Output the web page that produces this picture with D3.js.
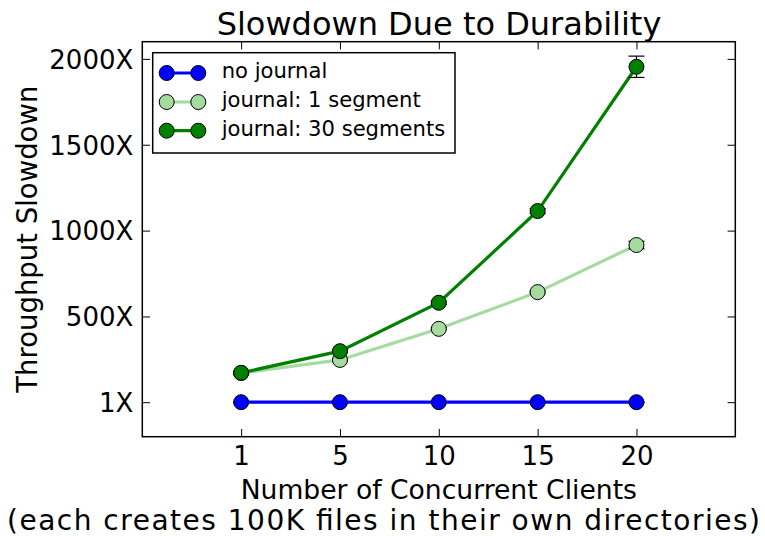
<!DOCTYPE html>
<html>
<head>
<meta charset="utf-8">
<script src="https://cdn.jsdelivr.net/npm/d3@7/dist/d3.min.js"></script>
<style>
  html, body { margin: 0; padding: 0; background: #fff; }
  svg { display: block; font-family: "DejaVu Sans", sans-serif; }
</style>
</head>
<body>
<svg id="chart" width="765" height="536"></svg>
<script>
// ---- data ----
const clients = ["1", "5", "10", "15", "20"];
const noJournal = [1, 1, 1, 1, 1];
const noJournalErr = [2, 2, 2, 2, 2];
const seg1 = [171, 247, 428, 642, 916];
const seg1Err = [5, 5, 6, 6, 22];
const seg30 = [172, 298, 580, 1114, 1954];
const seg30Err = [6, 6, 9, 14, 62];
const yTickValues = [1, 500, 1000, 1500, 2000];
const yTickLabels = ["1X", "500X", "1000X", "1500X", "2000X"];
const seriesNames = ["no journal", "journal: 1 segment", "journal: 30 segments"];

const series = [
  { name: seriesNames[0], values: noJournal, err: noJournalErr, color: "#0000ff", fill: "#0000ff" },
  { name: seriesNames[1], values: seg1, err: seg1Err, color: "#a6dba0", fill: "#a6dba0" },
  { name: seriesNames[2], values: seg30, err: seg30Err, color: "#008000", fill: "#008000" }
];

const L = 142.3, R = 735.3, T = 41.7, B = 436.7;
const svg = d3.select("#chart");

const x = d3.scaleLinear().domain([-1, 5]).range([L, R]);
const y = d3.scaleLinear().domain([-200, 2100]).range([B, T]);
const idx = clients.map((c, i) => i);

const tickLen = 7.7;
const fs = 26;

// axes
const gB = svg.append("g").attr("transform", `translate(0,${B})`)
  .call(d3.axisBottom(x).tickValues(idx).tickFormat(i => clients[i]).tickSize(-tickLen).tickSizeOuter(0).tickPadding(10));
const gT = svg.append("g").attr("transform", `translate(0,${T})`)
  .call(d3.axisTop(x).tickValues(idx).tickFormat("").tickSize(-tickLen).tickSizeOuter(0));
const gL = svg.append("g").attr("transform", `translate(${L},0)`)
  .call(d3.axisLeft(y).tickValues(yTickValues).tickFormat((d, i) => yTickLabels[i]).tickSize(-tickLen).tickSizeOuter(0).tickPadding(9));
const gR = svg.append("g").attr("transform", `translate(${R},0)`)
  .call(d3.axisRight(y).tickValues(yTickValues).tickFormat("").tickSize(-tickLen).tickSizeOuter(0));

[gB, gT, gL, gR].forEach(g => {
  g.select(".domain").remove();
  g.selectAll(".tick line").attr("stroke", "#000").attr("stroke-width", 1);
  g.selectAll(".tick text").attr("font-size", fs).attr("font-family", "DejaVu Sans").attr("fill", "#000");
});
gL.selectAll(".tick text").attr("dy", "0.36em");

// series
const lineGen = d3.line().x((d, i) => x(i)).y(d => y(d));
series.forEach(s => {
  const g = svg.append("g");
  g.append("path").datum(s.values).attr("d", lineGen)
    .attr("fill", "none").attr("stroke", s.color).attr("stroke-width", 3.2);
  // error bars
  s.values.forEach((v, i) => {
    const e = s.err[i];
    g.append("line").attr("x1", x(i)).attr("x2", x(i)).attr("y1", y(v - e)).attr("y2", y(v + e))
      .attr("stroke", "#000").attr("stroke-width", 1.2);
    [v - e, v + e].forEach(c => {
      g.append("line").attr("x1", x(i) - 8).attr("x2", x(i) + 8).attr("y1", y(c)).attr("y2", y(c))
        .attr("stroke", "#000").attr("stroke-width", 1.2);
    });
  });
  g.selectAll("circle").data(s.values).enter().append("circle")
    .attr("cx", (d, i) => x(i)).attr("cy", d => y(d)).attr("r", 7.5)
    .attr("fill", s.fill).attr("stroke", "#000").attr("stroke-width", 1);
});

// frame
svg.append("rect").attr("x", L).attr("y", T).attr("width", R - L).attr("height", B - T)
  .attr("fill", "none").attr("stroke", "#000").attr("stroke-width", 1.5);

// legend
const lg = svg.append("g");
lg.append("rect").attr("x", 152.7).attr("y", 52.7).attr("width", 302.3).attr("height", 100.3)
  .attr("fill", "#fff").attr("stroke", "#000").attr("stroke-width", 1.5);
const rowY = [73, 102, 130.7];
series.forEach((s, i) => {
  const yy = rowY[i];
  lg.append("line").attr("x1", 166.7).attr("x2", 198.3).attr("y1", yy).attr("y2", yy)
    .attr("stroke", s.color).attr("stroke-width", 3.2);
  [166.7, 198.3].forEach(cx => lg.append("circle").attr("cx", cx).attr("cy", yy).attr("r", 7.5)
    .attr("fill", s.fill).attr("stroke", "#000").attr("stroke-width", 1));
  lg.append("text").attr("x", 221.7).attr("y", yy + 5).attr("font-size", 21.1).text(s.name);
});

// title
svg.append("text").attr("x", 439).attr("y", 34.5).attr("text-anchor", "middle")
  .attr("font-size", 32).text("Slowdown Due to Durability");

// x label
svg.append("text").attr("x", 438.8).attr("y", 498.5).attr("text-anchor", "middle")
  .attr("font-size", 26.6).text("Number of Concurrent Clients");
svg.append("text").attr("x", 7).attr("y", 530).attr("text-anchor", "start")
  .attr("font-size", 28).attr("textLength", 753).attr("lengthAdjust", "spacing")
  .text("(each creates 100K files in their own directories)");

// y label
svg.append("text").attr("transform", `translate(37,${(T + B) / 2}) rotate(-90)`)
  .attr("text-anchor", "middle").attr("font-size", 27.5).text("Throughput Slowdown");
</script>
</body>
</html>
